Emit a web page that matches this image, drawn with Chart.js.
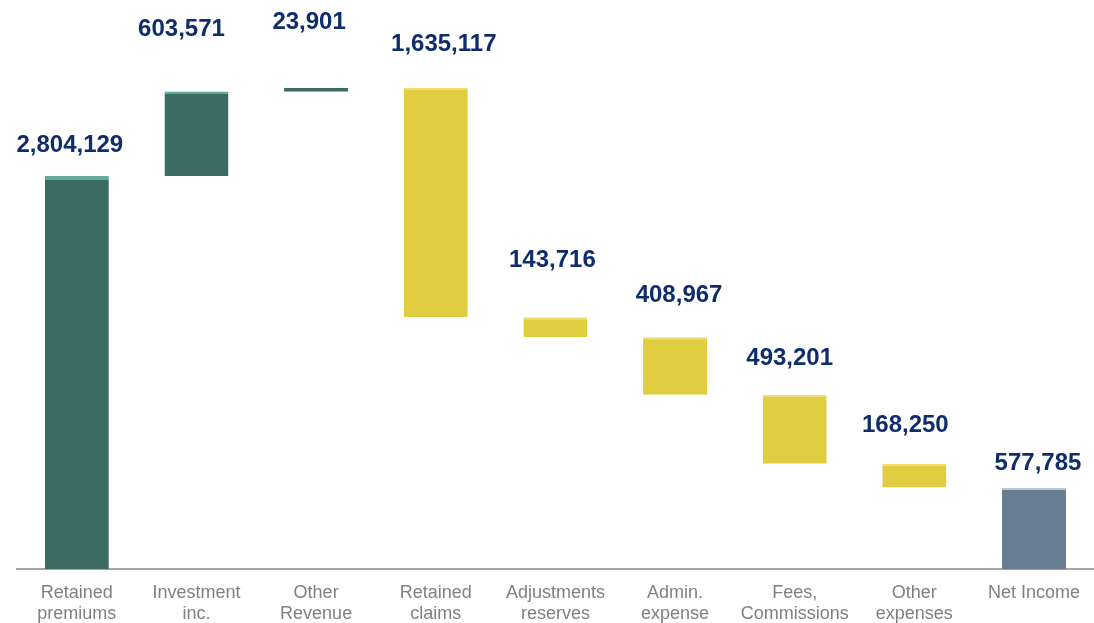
<!DOCTYPE html>
<html>
<head>
<meta charset="utf-8">
<script src="https://cdn.jsdelivr.net/npm/chart.js@4/dist/chart.umd.min.js"></script>
<style>
  html, body { margin: 0; padding: 0; background: #ffffff; overflow: hidden; }
  #outer { width: 1094px; height: 623px; overflow: hidden; }
  #wrap { width: 1094px; height: 641px; position: relative; }
</style>
</head>
<body>
<div id="outer"><div id="wrap"><canvas id="c"></canvas></div></div>
<script>
// ---- data ----
const categories = [
  ["Retained", "premiums"], ["Investment", "inc."], ["Other", "Revenue"],
  ["Retained", "claims"], ["Adjustments", "reserves"], ["Admin.", "expense"],
  ["Fees,", "Commissions"], ["Other", "expenses"], ["Net Income"]
];
const changes = [2804129, 603571, 23901, -1635117, -143716, -408967, -493201, -168250];
const netIncome = 577785;
const valueLabels = ["2,804,129", "603,571", "23,901", "1,635,117", "143,716", "408,967", "493,201", "168,250", "577,785"];

// ---- build floating ranges ----
const ranges = [];
const kinds = [];
let running = 0;
changes.forEach(v => {
  const start = running;
  running += v;
  ranges.push([Math.min(start, running), Math.max(start, running)]);
  kinds.push(v >= 0 ? 'up' : 'down');
});
ranges.push([0, netIncome]);
kinds.push('total');

// ---- style ----
const fillColors = { up: '#3C6B63', down: '#E0CD40', total: '#687D92' };
const edgeColors = { up: '#62AA9C', down: '#F0DE6C', total: '#B9C9D2' };
const labelDy = [31, 62, 66, 44, 57, 42, 36, 38, 25];
const labelDx = [-7, -15, -7, 8, -3, 4, -5, -9, 4];

const valueLabelPlugin = {
  id: 'valueLabels',
  afterDatasetsDraw(chart) {
    const ctx = chart.ctx;
    const meta = chart.getDatasetMeta(0);
    const yScale = chart.scales.y;
    ctx.save();
    ctx.font = 'bold 24px "Liberation Sans", Arial, sans-serif';
    ctx.fillStyle = '#0F2C6B';
    ctx.textAlign = 'center';
    ctx.textBaseline = 'middle';
    meta.data.forEach((bar, i) => {
      const top = yScale.getPixelForValue(ranges[i][1]);
      ctx.fillText(valueLabels[i], bar.x + labelDx[i], top - labelDy[i]);
    });
    ctx.restore();
  }
};

new Chart(document.getElementById('c'), {
  type: 'bar',
  data: {
    labels: categories,
    datasets: [{
      data: ranges,
      backgroundColor: kinds.map(k => fillColors[k]),
      borderColor: kinds.map(k => edgeColors[k]),
      borderWidth: ranges.map((r, i) => ({ top: i === 2 ? 0 : (i === 0 ? 4 : 2), left: 0, right: 0, bottom: 0 })),
      borderSkipped: false,
      barPercentage: 0.535,
      categoryPercentage: 1.0
    }]
  },
  options: {
    responsive: true,
    maintainAspectRatio: false,
    animation: false,
    events: [],
    layout: { padding: { left: 17, right: 0, top: 0, bottom: 2 } },
    plugins: { legend: { display: false }, tooltip: { enabled: false } },
    scales: {
      x: {
        grid: { display: false, drawTicks: false },
        border: { display: true, color: '#A6A6A6', width: 2 },
        ticks: {
          color: '#808080',
          font: { family: '"Liberation Sans", Arial, sans-serif', size: 18, lineHeight: '21px' },
          padding: 14,
          maxRotation: 0,
          autoSkip: false
        }
      },
      y: {
        display: false,
        min: 0,
        max: 4060000
      }
    }
  },
  plugins: [valueLabelPlugin]
});
</script>
</body>
</html>
